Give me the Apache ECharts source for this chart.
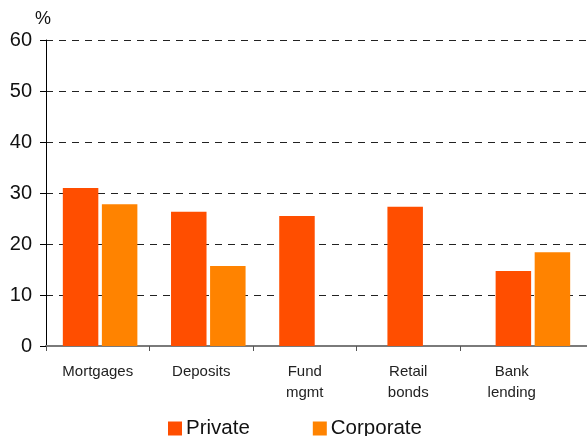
<!DOCTYPE html>
<html>
<head>
<meta charset="utf-8">
<script src="https://cdn.jsdelivr.net/npm/echarts@6/dist/echarts.min.js"></script>
<style>
  html, body { margin: 0; padding: 0; background: #fff; }
  #chart { width: 587px; height: 436px; }
</style>
</head>
<body>
<div id="chart"></div>
<script>
// Market share by product line, percent
const categories = ['Mortgages', 'Deposits', 'Fund\nmgmt', 'Retail\nbonds', 'Bank\nlending'];
const privateShare = [31, 26.3, 25.5, 27.3, 14.7];
const corporateShare = [27.8, 15.7, null, null, 18.4];
const yTicks = [0, 10, 20, 30, 40, 50, 60];
const boundaryTicks = [0, 1, 2, 3, 4];

const FONT = 'Liberation Sans, Arial, sans-serif';
const chart = echarts.init(document.getElementById('chart'), null, { renderer: 'canvas' });

chart.setOption({
  animation: false,
  backgroundColor: '#ffffff',
  textStyle: { fontFamily: FONT },
  grid: [
    { left: 46, right: 0, top: 40, height: 306 },
    { left: 46, width: 517.5, top: 40, height: 306 },
    { left: 46, width: 517.5, top: 40, height: 306 }
  ],
  legend: {
    left: 168,
    top: 418,
    padding: 0,
    itemWidth: 14,
    itemHeight: 14,
    itemGap: 63,
    icon: 'rect',
    textStyle: { fontSize: 20.5, color: '#111', fontFamily: FONT, padding: [0, 0, 0, -1] },
    data: ['Private', 'Corporate']
  },
  xAxis: [
    {
      type: 'category',
      gridIndex: 0,
      data: categories,
      axisLine: { show: true, lineStyle: { color: '#7a7a7a', width: 2 } },
      axisTick: { show: false },
      axisLabel: { show: false }
    },
    {
      type: 'category',
      gridIndex: 1,
      data: categories,
      axisLine: { show: false },
      axisTick: { show: false },
      axisLabel: {
        show: true,
        margin: 15,
        fontSize: 15,
        lineHeight: 21,
        color: '#222',
        fontFamily: FONT
      }
    },
    {
      type: 'value',
      gridIndex: 2,
      min: 0,
      max: 5,
      interval: 1,
      axisLine: { show: false },
      axisLabel: { show: false },
      splitLine: { show: false },
      axisTick: { show: true, length: 5, customValues: boundaryTicks, lineStyle: { color: '#555', width: 1 } }
    }
  ],
  yAxis: [
    {
      type: 'value',
      gridIndex: 0,
      min: yTicks[0],
      max: yTicks[yTicks.length - 1],
      interval: 10,
      name: '%',
      nameLocation: 'end',
      nameGap: 12,
      nameTextStyle: { fontSize: 18, color: '#111', fontFamily: FONT, align: 'center', padding: [0, 0, 0, -6] },
      axisLine: { show: true, lineStyle: { color: '#000', width: 1 } },
      axisTick: { show: true, inside: false, length: 6, lineStyle: { color: '#000' } },
      axisLabel: { margin: 14, fontSize: 20, color: '#111', fontFamily: FONT },
      splitLine: { show: true, lineStyle: { color: '#222', type: [7, 6], width: 1 } }
    },
    { type: 'value', gridIndex: 1, min: 0, max: 60, show: false },
    { type: 'value', gridIndex: 2, min: 0, max: 60, show: false }
  ],
  series: [
    {
      name: 'Private',
      type: 'bar',
      xAxisIndex: 0,
      yAxisIndex: 0,
      data: privateShare,
      barWidth: 35.5,
      barGap: '10%',
      itemStyle: { color: '#FF4E00' }
    },
    {
      name: 'Corporate',
      type: 'bar',
      xAxisIndex: 0,
      yAxisIndex: 0,
      data: corporateShare,
      barWidth: 35.5,
      barGap: '10%',
      itemStyle: { color: '#FF8300' }
    }
  ]
});
</script>
</body>
</html>
